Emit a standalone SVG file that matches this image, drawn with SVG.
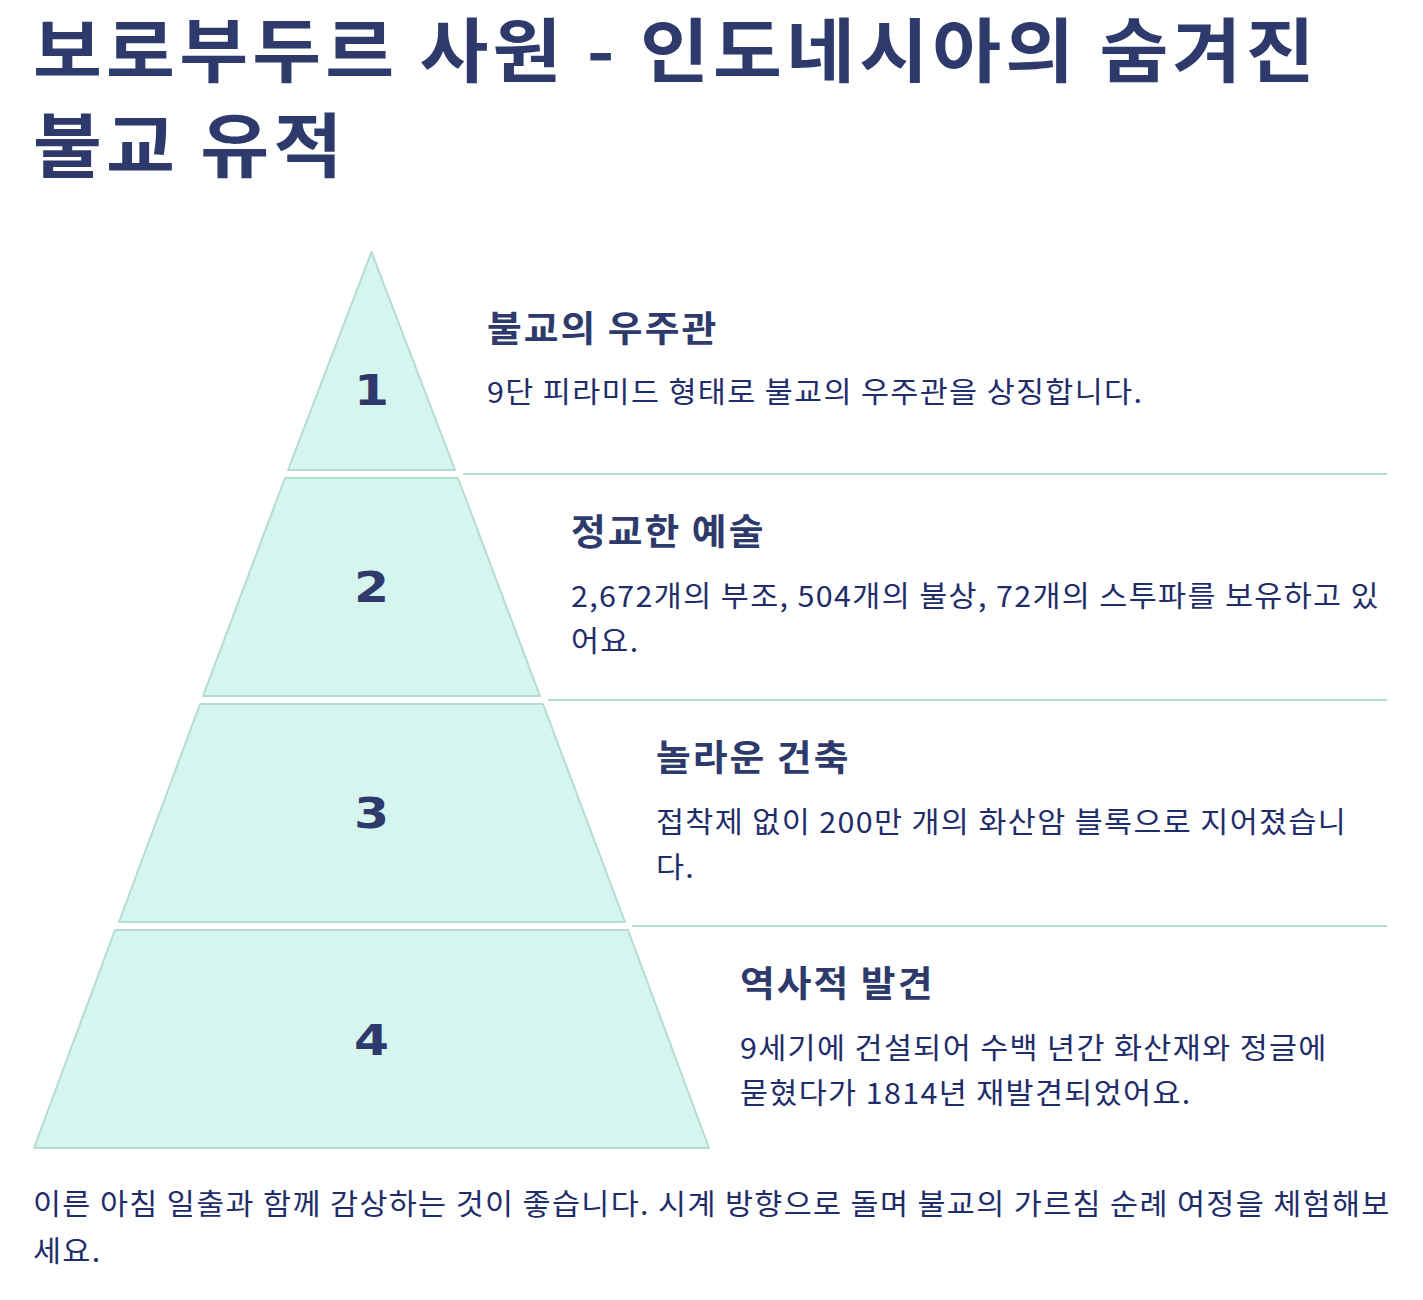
<svg xmlns="http://www.w3.org/2000/svg" width="1423" height="1300" viewBox="0 0 1423 1300">
<style>
.title{font-family:"Noto Sans CJK KR","Noto Sans",sans-serif;font-size:70px;font-weight:700;fill:#2d3a6b;letter-spacing:3.9px}
.layer{fill:#d5f5ee;stroke:#b5dcd2;stroke-width:2;stroke-linejoin:round}
.num{font-family:"DejaVu Sans",sans-serif;font-size:42px;font-weight:700;fill:#2d3a6b;text-anchor:middle}
.head{font-family:"Noto Sans CJK KR","Noto Sans",sans-serif;font-size:36px;font-weight:700;fill:#2d3a6b;letter-spacing:1.9px}
.desc{font-family:"Noto Sans CJK KR","Noto Sans",sans-serif;font-size:29px;font-weight:400;fill:#1f2d6b;letter-spacing:1.3px}
.div{stroke:#b5dcd2;stroke-width:2}
</style>
<rect width="1423" height="1300" fill="#ffffff"/>
<g id="title">
<text class="title" transform="translate(33,77) scale(1.07,1)">보로부두르 사원 - 인도네시아의 숨겨진</text>
<text class="title" transform="translate(33,172) scale(1.07,1)">불교 유적</text>
</g>
<g id="connectors">
<line class="div" x1="463" y1="474" x2="1387" y2="474"/>
<line class="div" x1="548" y1="700" x2="1387" y2="700"/>
<line class="div" x1="632" y1="926" x2="1387" y2="926"/>
</g>
<g id="layer1">
<polygon class="layer" points="371.5,252 455,470 288,470"/>
<text class="num" transform="translate(371.5,405) scale(1.2,1)">1</text>
<text class="head" transform="translate(487,342) scale(1.05,1)">불교의 우주관</text>
<text class="desc" transform="translate(487,403) scale(1.05,1)">9단 피라미드 형태로 불교의 우주관을 상징합니다.</text>
</g>
<g id="layer2">
<polygon class="layer" points="285,478 458,478 540,696 203,696"/>
<text class="num" transform="translate(371.5,602) scale(1.2,1)">2</text>
<text class="head" transform="translate(571,545) scale(1.05,1)">정교한 예술</text>
<text class="desc" transform="translate(571,607) scale(1.05,1)">2,672개의 부조, 504개의 불상, 72개의 스투파를 보유하고 있</text>
<text class="desc" transform="translate(571,652) scale(1.05,1)">어요.</text>
</g>
<g id="layer3">
<polygon class="layer" points="200,704 543,704 625,922 119,922"/>
<text class="num" transform="translate(371.5,828) scale(1.2,1)">3</text>
<text class="head" transform="translate(656,771) scale(1.05,1)">놀라운 건축</text>
<text class="desc" transform="translate(656,833) scale(1.05,1)">접착제 없이 200만 개의 화산암 블록으로 지어졌습니</text>
<text class="desc" transform="translate(656,878) scale(1.05,1)">다.</text>
</g>
<g id="layer4">
<polygon class="layer" points="115,930 628,930 709,1148 34,1148"/>
<text class="num" transform="translate(371.5,1055) scale(1.2,1)">4</text>
<text class="head" transform="translate(740,997) scale(1.05,1)">역사적 발견</text>
<text class="desc" transform="translate(740,1059) scale(1.05,1)">9세기에 건설되어 수백 년간 화산재와 정글에</text>
<text class="desc" transform="translate(740,1104) scale(1.05,1)">묻혔다가 1814년 재발견되었어요.</text>
</g>
<g id="footer">
<text class="desc" transform="translate(33,1215) scale(1.05,1)">이른 아침 일출과 함께 감상하는 것이 좋습니다. 시계 방향으로 돌며 불교의 가르침 순례 여정을 체험해보</text>
<text class="desc" transform="translate(33,1262) scale(1.05,1)">세요.</text>
</g>
</svg>
